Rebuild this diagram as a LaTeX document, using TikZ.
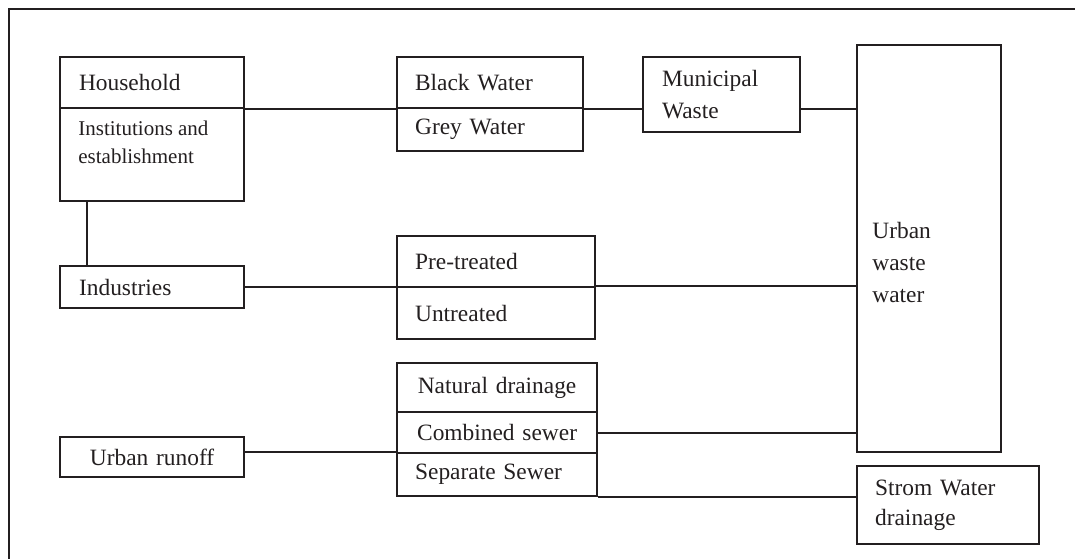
\documentclass[tikz,border=0pt]{standalone}
\usepackage{fontspec}
\setmainfont{Liberation Serif}
\usetikzlibrary{calc}
\definecolor{ink}{HTML}{231F20}
\begin{document}
\begin{tikzpicture}[x=0.5pt,y=-0.5pt,
  box/.style={draw=ink, line width=1.1pt, rectangle, anchor=north west,
    inner ysep=0pt, inner xsep=9.5pt, align=left, text=ink,
    font=\fontsize{11.7}{16}\selectfont},
  cbox/.style={box, align=center},
  txt/.style={text=ink, inner sep=0pt, anchor=base west},
  conn/.style={draw=ink, line width=0.9pt}]
\useasboundingbox (0,0) rectangle (1075,559);
% frame (top and left edges)
\draw[conn] (1075,9) -- (9,9) -- (9,559);
% left column
\node[box, text width=73pt, minimum height=25.5pt] (hh) at (59,56) {Household};
\node[box, text width=73pt, minimum height=46.5pt] (inst) at (59,107) {};
\node[txt, font=\fontsize{10.5}{14}\selectfont] (instA) at (78,135) {Institutions and};
\node[txt, font=\fontsize{10.5}{14}\selectfont] (instB) at (78,163) {establishment};
\node[box, text width=73pt, minimum height=21pt] (ind) at (59,265) {Industries};
\node[cbox, text width=73pt, minimum height=20pt] (run) at (59,436) {Urban runoff};
% middle column
\node[box, inner xsep=9pt, text width=75pt, minimum height=25.5pt] (bw) at (396,56) {Black Water};
\node[box, inner xsep=9pt, text width=75pt, minimum height=21.5pt] (gw) at (396,107) {Grey Water};
\node[box, inner xsep=9pt, text width=81pt, minimum height=25.5pt] (pre) at (396,235) {Pre-treated};
\node[box, inner xsep=9pt, text width=81pt, minimum height=26pt] (unt) at (396,286) {Untreated};
\node[cbox, inner xsep=9pt, text width=82pt, minimum height=24.5pt] (nat) at (396,362) {Natural drainage};
\node[cbox, inner xsep=9pt, text width=82pt, minimum height=20.5pt] (comb) at (396,411) {Combined sewer};
\node[box, inner xsep=9pt, text width=82pt, minimum height=21.5pt] (sep) at (396,452) {Separate Sewer};
% right part
\node[box, text width=59.5pt, minimum height=37.5pt] (mun) at (642,56) {Municipal\\Waste};
\node[box, text width=53pt, minimum height=203.5pt] (uww) at (856,44) {};
\node[txt, font=\fontsize{11.7}{16}\selectfont] (uwwA) at (872,238) {Urban};
\node[txt, font=\fontsize{11.7}{16}\selectfont] (uwwB) at (872,270) {waste};
\node[txt, font=\fontsize{11.7}{16}\selectfont] (uwwC) at (872,302) {water};
\node[box, inner xsep=9pt, text width=73pt, minimum height=39pt, font=\fontsize{11.7}{15}\selectfont] (strom) at (856,465) {Strom Water\\drainage};
% connectors
\draw[conn] (hh.south east) -- (bw.south west);
\draw[conn] (bw.south east) -- (bw.south east -| mun.west);
\draw[conn] (bw.south east -| mun.east) -- (bw.south east -| uww.west);
\draw[conn] ($(inst.south west)+(28,0)$) -- ($(ind.north west)+(28,0)$);
\draw[conn] (ind.east) -- (ind.east -| pre.west);
\draw[conn] (unt.north east) -- (unt.north east -| uww.west);
\draw[conn] (sep.north west -| run.east) -- (sep.north west);
\draw[conn] (comb.east) -- (comb.east -| uww.west);
\draw[conn] (sep.south east) -- (sep.south east -| strom.west);
\end{tikzpicture}
\end{document}
